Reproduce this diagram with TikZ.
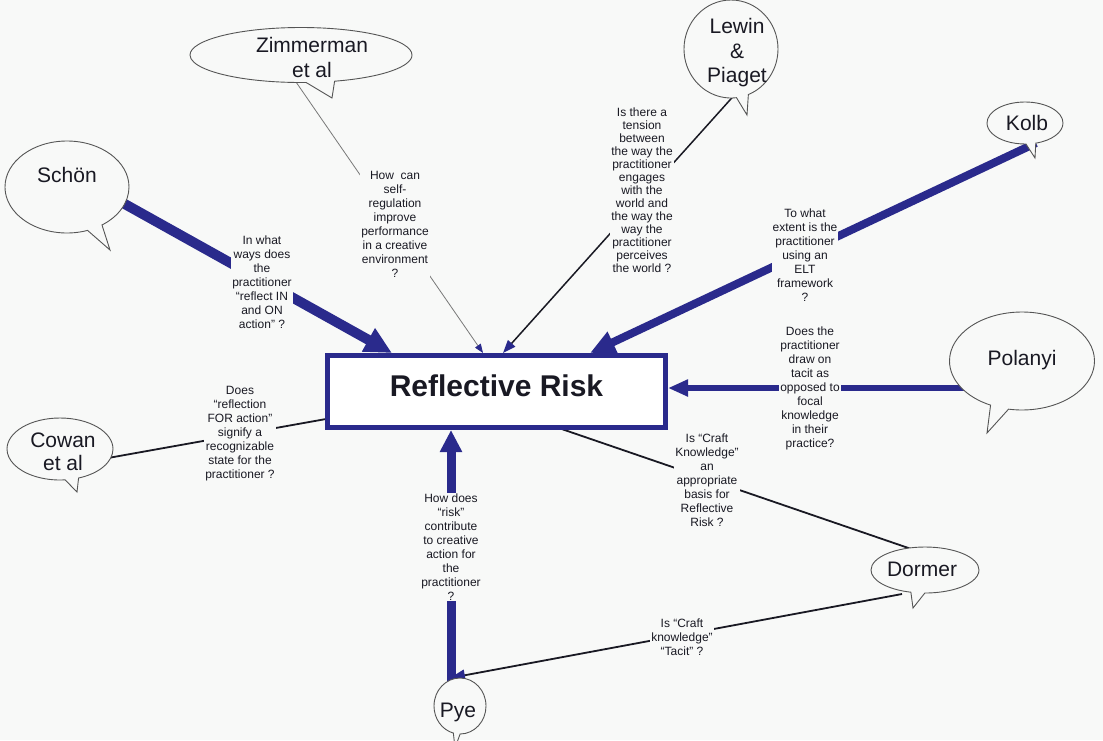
\documentclass[tikz,border=0pt]{standalone}
\usepackage{fontspec}
\setmainfont{Liberation Sans}
\usetikzlibrary{arrows.meta,shapes.callouts,backgrounds}
\definecolor{navy}{RGB}{42,42,140}
\definecolor{bg}{RGB}{248,249,248}
\definecolor{ink}{RGB}{25,25,35}
\definecolor{outline}{RGB}{85,85,85}
\begin{document}
\begin{tikzpicture}[x=1pt,y=-1pt,
  bubble/.style={ellipse callout, draw=outline, line width=0.9pt, fill=bg, inner sep=0pt},
  who/.style={font=\fontsize{21}{25}\selectfont, text=ink, align=center, inner sep=0pt},
  question/.style={font=\fontsize{12}{14}\selectfont, text=ink, align=center, fill=bg, inner sep=1pt},
  fat/.style={draw=navy, line width=#1},
  thinline/.style={draw=ink, line width=1.8pt},
  navyhead/.style={-{Triangle[length=#1pt,width=0.75*#1pt,color=navy]}}
]
\useasboundingbox (0,0) rectangle (1103,740);

% central box
\node[draw=navy, line width=5pt, fill=white, minimum width=338pt, minimum height=72pt,
      text depth=12pt,
      font={\fontsize{30}{36}\selectfont\bfseries}, text=ink] (box) at (496.5,391.5) {Reflective Risk};

% speech bubbles
\node[bubble, minimum width=222pt, minimum height=55pt, callout absolute pointer={(332,98)}] (zimB) at (301,55) {};
\node[who] (zim) at (312,57) {Zimmerman\\et al};
\node[bubble, minimum width=124pt, minimum height=92pt, callout absolute pointer={(110,250)}] (schonB) at (67,187) {};
\node[who] (schon) at (67,175) {Schön};
\node[bubble, minimum width=94pt, minimum height=98pt, callout absolute pointer={(747,115)}] (lewB) at (731,49) {};
\node[who, font=\fontsize{21}{24.5}\selectfont] (lew) at (737,53) {Lewin\\\&\\Piaget};
\node[bubble, minimum width=76pt, minimum height=42pt, callout absolute pointer={(1035,158)}] (kolbB) at (1025,123) {};
\node[who] (kolb) at (1027,123) {Kolb};
\node[bubble, minimum width=145pt, minimum height=98pt, callout absolute pointer={(987,433)}] (polB) at (1022,361) {};
\node[who] (pol) at (1022,360) {Polanyi};
\node[bubble, minimum width=108pt, minimum height=46pt, callout absolute pointer={(913,608)}] (dorB) at (925,570) {};
\node[who] (dor) at (922,569) {Dormer};
\node[bubble, minimum width=52pt, minimum height=56pt, callout absolute pointer={(455,748)}] (pyeB) at (460,706) {};
\node[who] (pye) at (458,712) {Pye};
\node[bubble, minimum width=106pt, minimum height=62pt, callout absolute pointer={(77,492)}] (cowB) at (60,449) {};
\node[who, font=\fontsize{21}{23}\selectfont] (cow) at (63,452) {Cowan\\et al};

% question labels
\node[question] (q1) at (262,282) {In what\\ways does\\the\\practitioner\\“reflect IN\\and ON\\action” ?};
\node[question] (q2) at (395,224) {How\hspace{0.55em}can\\self-\\regulation\\improve\\performance\\in a creative\\environment\\?};
\node[question, font=\fontsize{12}{13}\selectfont] (q3) at (642,190) {Is there a\\tension\\between\\the way the\\practitioner\\engages\\with the\\world and\\the way the\\way the\\practitioner\\perceives\\the world ?};
\node[question] (q4) at (805,255) {To what\\extent is the\\practitioner\\using an\\ELT\\framework\\?};
\node[question] (q5) at (810,388) {Does the\\practitioner\\draw on\\tacit as\\opposed to\\focal\\knowledge\\in their\\practice?};
\node[question] (q6) at (707,480) {Is “Craft\\Knowledge”\\an\\appropriate\\basis for\\Reflective\\Risk ?};
\node[question] (q7) at (682,637) {Is “Craft\\knowledge”\\“Tacit” ?};
\node[question] (q8) at (451,547) {How does\\“risk”\\contribute\\to creative\\action for\\the\\practitioner\\?};
\node[question] (q9) at (240,434) {Does\\“reflection\\FOR action”\\signify a\\recognizable\\state for the\\practitioner ?};

% connector end points
\coordinate (schonOut) at (114,198);  \coordinate (schonIn) at (392,353);
\coordinate (zimOut) at (296,82);     \coordinate (zimIn) at (483,353);
\coordinate (lewOut) at (738,91);     \coordinate (lewIn) at (503,353);
\coordinate (kolbOut) at (1036,143);  \coordinate (kolbIn) at (590,353);
\coordinate (polOut) at (975,388);    \coordinate (polIn) at (668,388);
\coordinate (pyeOut) at (451,692);    \coordinate (pyeIn) at (451,430);
\coordinate (cowOut) at (108,458);    \coordinate (cowIn) at (326,419);
\coordinate (boxOut) at (550,425);    \coordinate (dorIn) at (923,553);
\coordinate (dorOut) at (902,594);    \coordinate (pyeTop) at (450,678);

\begin{scope}[on background layer]
  \fill[bg] (0,0) rectangle (1103,740);
  \draw[fat=10pt, -{Triangle[length=27pt,width=25pt]}] (schonOut) -- (schonIn);
  \draw[draw={rgb,255:red,120;green,120;blue,120}, line width=0.8pt, navyhead=9] (zimOut) -- (zimIn);
  \draw[thinline, line width=1.5pt, navyhead=13] (lewOut) -- (lewIn);
  \draw[fat=8pt, -{Triangle[length=25pt,width=22pt]}] (kolbOut) -- (kolbIn);
  \draw[fat=6pt, -{Triangle[length=20pt,width=16pt]}] (polOut) -- (polIn);
  \draw[fat=9pt, -{Triangle[length=22pt,width=21pt]}] (pyeOut) -- (pyeIn);
  \draw[thinline] (cowOut) -- (cowIn);
  \draw[thinline] (boxOut) -- (dorIn);
  \draw[thinline, navyhead=15] (dorOut) -- (pyeTop);
\end{scope}
\end{tikzpicture}
\end{document}
